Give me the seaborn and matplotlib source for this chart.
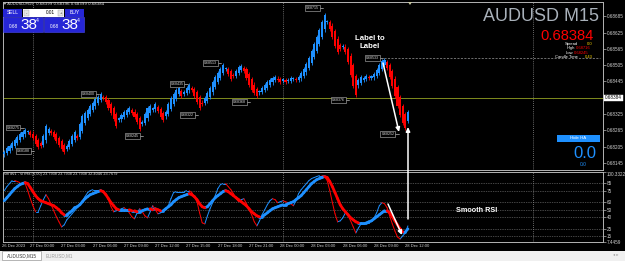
import numpy as np
import pandas as pd
import matplotlib
matplotlib.use("Agg")
import matplotlib.pyplot as plt
import seaborn as sns
from matplotlib.patches import Rectangle
from matplotlib.transforms import ScaledTranslation, blended_transform_factory

# ---------------- data ----------------
ha_close = [
    0.68185, 0.68200, 0.68207, 0.68218, 0.68229, 0.68240, 0.68251, 0.68259, 0.68266, 0.68259, 0.68247, 0.68236,
    0.68214, 0.68203, 0.68207, 0.68244, 0.68281, 0.68270, 0.68255, 0.68240, 0.68225, 0.68211, 0.68196, 0.68185,
    0.68207, 0.68225, 0.68244, 0.68259, 0.68236, 0.68288, 0.68318, 0.68329, 0.68340, 0.68354, 0.68366, 0.68380,
    0.68388, 0.68399, 0.68384, 0.68369, 0.68347, 0.68329, 0.68306, 0.68281, 0.68306, 0.68321, 0.68332, 0.68340,
    0.68347, 0.68329, 0.68314, 0.68295, 0.68270, 0.68295, 0.68325, 0.68347, 0.68354, 0.68343, 0.68362, 0.68336,
    0.68314, 0.68303, 0.68332, 0.68362, 0.68384, 0.68399, 0.68414, 0.68421, 0.68391, 0.68406, 0.68421, 0.68432,
    0.68414, 0.68391, 0.68369, 0.68347, 0.68362, 0.68384, 0.68402, 0.68421, 0.68443, 0.68461, 0.68476, 0.68491,
    0.68506, 0.68491, 0.68473, 0.68454, 0.68465, 0.68484, 0.68498, 0.68502, 0.68484, 0.68458, 0.68432, 0.68414,
    0.68402, 0.68391, 0.68406, 0.68421, 0.68432, 0.68443, 0.68450, 0.68458, 0.68461, 0.68450, 0.68443, 0.68450,
    0.68443, 0.68450, 0.68458, 0.68454, 0.68450, 0.68461, 0.68476, 0.68491, 0.68509, 0.68532, 0.68557, 0.68583,
    0.68609, 0.68635, 0.68664, 0.68690, 0.68664, 0.68639, 0.68609, 0.68576, 0.68554, 0.68565, 0.68576, 0.68554,
    0.68517, 0.68469, 0.68428, 0.68395, 0.68450, 0.68461, 0.68458, 0.68465, 0.68458, 0.68461, 0.68473, 0.68487,
    0.68506, 0.68521, 0.68524, 0.68495, 0.68461, 0.68428, 0.68391, 0.68354, 0.68321, 0.68292, 0.68273, 0.68332,
]
ha_open_first = 0.68176

rsi_smooth = [
    61.8, 65.8, 69.8, 73.8, 77.8, 80.4, 83.1, 84.4, 85.7, 84.4, 79.1, 73.8,
    68.5, 64.5, 61.8, 60.5, 59.2, 57.9, 56.5, 55.2, 52.6, 49.9, 45.9, 43.3,
    43.3, 45.9, 48.6, 52.6, 53.9, 56.5, 60.5, 64.5, 67.2, 69.8, 71.1, 72.5,
    73.8, 75.1, 73.8, 69.8, 64.5, 59.2, 55.2, 51.2, 49.9, 49.9, 49.9, 49.9,
    49.9, 48.6, 48.6, 47.2, 47.2, 48.6, 49.9, 51.2, 51.2, 49.9, 51.2, 49.9,
    48.6, 48.6, 51.2, 53.9, 56.5, 60.5, 63.2, 65.8, 67.2, 68.5, 69.8, 71.1,
    69.8, 67.2, 63.2, 57.9, 53.9, 52.6, 53.9, 57.9, 61.8, 65.8, 68.5, 71.1,
    73.8, 75.1, 73.8, 71.1, 68.5, 65.8, 63.2, 60.5, 57.9, 55.2, 51.2, 47.2,
    44.6, 41.9, 40.6, 40.6, 43.3, 45.9, 48.6, 51.2, 52.6, 53.9, 55.2, 56.5,
    56.5, 57.9, 59.2, 60.5, 63.2, 65.8, 68.5, 72.5, 76.4, 80.4, 84.4, 87.1,
    89.7, 91.0, 92.4, 93.7, 92.4, 87.1, 80.4, 72.5, 64.5, 56.5, 51.2, 47.2,
    43.3, 39.3, 36.6, 34.0, 32.7, 32.7, 32.7, 32.7, 34.0, 35.3, 38.0, 40.6,
    43.3, 45.9, 48.6, 48.6, 45.9, 40.6, 35.3, 30.0, 24.7, 20.7, 20.7, 24.7,
]
rsi_fast = [
    75.1, 80.4, 84.4, 88.4, 88.4, 87.1, 85.7, 85.7, 84.4, 75.1, 64.5, 55.2,
    47.2, 47.2, 55.2, 63.2, 69.8, 64.5, 56.5, 48.6, 40.6, 34.0, 27.3, 30.0,
    36.6, 40.6, 44.6, 48.6, 52.6, 57.9, 61.8, 67.2, 72.5, 75.1, 76.4, 76.4,
    76.4, 76.4, 73.8, 69.8, 63.2, 53.9, 47.2, 48.6, 49.9, 51.2, 52.6, 49.9,
    45.9, 40.6, 38.0, 45.9, 51.2, 47.2, 41.9, 39.3, 47.2, 55.2, 49.9, 44.6,
    45.9, 48.6, 49.9, 55.2, 64.5, 72.5, 73.8, 73.8, 73.8, 73.8, 75.1, 75.1,
    72.5, 67.2, 60.5, 45.9, 32.7, 31.3, 41.9, 51.2, 59.2, 68.5, 77.8, 83.1,
    84.4, 84.4, 80.4, 76.4, 71.1, 64.5, 60.5, 63.2, 64.5, 57.9, 49.9, 43.3,
    34.0, 28.7, 35.3, 43.3, 49.9, 56.5, 61.8, 64.5, 63.2, 59.2, 60.5, 61.8,
    60.5, 59.2, 57.9, 55.2, 61.8, 71.1, 76.4, 80.4, 84.4, 88.4, 91.0, 92.4,
    93.7, 95.0, 95.0, 93.7, 88.4, 75.1, 59.2, 44.6, 34.0, 35.3, 39.3, 45.9,
    41.9, 35.3, 27.3, 19.4, 26.0, 31.3, 31.3, 32.7, 32.7, 35.3, 39.3, 45.9,
    55.2, 59.2, 57.9, 52.6, 41.9, 31.3, 22.0, 14.1, 11.4, 15.4, 19.4, 28.7,
]

time_tick_idx = [0, 11, 23, 35, 47, 59, 71, 83, 95, 107, 119, 131, 143, 155]
time_tick_lab = ["26 Dec 2023", "27 Dec 00:00", "27 Dec 03:00", "27 Dec 06:00", "27 Dec 09:00",
                 "27 Dec 12:00", "27 Dec 15:00", "27 Dec 18:00", "27 Dec 21:00", "28 Dec 00:00",
                 "28 Dec 03:00", "28 Dec 06:00", "28 Dec 09:00", "28 Dec 12:00"]
day_sep_idx = [11, 107, 203]

price_ticks = [0.68685, 0.68625, 0.68565, 0.68505, 0.68445, 0.68325, 0.68265, 0.68205, 0.68145]
current_price = 0.68384
rsi_ticks = [100.3322, 85, 75, 60, 50, 40, 25, 15, 7.4459]
rsi_tick_lab = ["100.3322", "85", "75", "60", "50", "40", "25", "15", "7.4459"]
rsi_levels = [85, 75, 60, 50, 40, 25, 15]

swing_idx = [8, 12, 37, 54, 71, 75, 84, 95, 123, 146, 133, 152]
swing_val = [0.68275, 0.68188, 0.68400, 0.68245, 0.68435, 0.68322, 0.68513, 0.68368, 0.68715, 0.68533,
             0.68376, 0.68252]
swing_lab = ["0.68275", "0.68188", "0.68400", "0.68245", "0.68435", "0.68322", "0.68513", "0.68368",
             "0.68715", "0.68533", "0.68376", "0.68252"]

# ---------------- style ----------------
sns.set_theme(style="dark")
plt.rcParams["font.family"] = ["Liberation Sans", "DejaVu Sans"]
plt.rcParams["axes.facecolor"] = "black"

W, H = 625, 261
BLUE, RED = "#1E90FF", "#FF0000"
GRID = "#8A8A8A"
FRAME = "#B4B4B4"
TXT = "#D0D0D0"
WICK = 0.00008

fig = plt.figure(figsize=(W / 100, H / 100), dpi=100, facecolor="black")

def rect_ax(x0, y0, x1, y1):
    return [x0 / W, 1 - y1 / H, (x1 - x0) / W, (y1 - y0) / H]

n = len(ha_close)
idx = np.arange(n)
ha_open = [ha_open_first]
for i in range(1, n):
    ha_open.append((ha_open[i - 1] + ha_close[i - 1]) / 2)
ha_open = np.array(ha_open)
ha_c = np.array(ha_close)

P_TOP, P_BOT = 1.5, 170.0
price_at = lambda py: 0.687456 - 0.0000369 * py
XPITCH = 2.604
xl = (-0.5, -0.5 + 600 / XPITCH)

# ---------------- price panel ----------------
ax = fig.add_axes(rect_ax(3, P_TOP, 603, P_BOT))
ax.set_facecolor("black")
ax.set_xlim(*xl)
ax.set_ylim(price_at(P_BOT), price_at(P_TOP))

up = ha_c >= ha_open
cols = np.where(up, BLUE, RED)
body_lo = np.minimum(ha_open, ha_c)
body_hi = np.maximum(ha_open, ha_c)
body_h = np.maximum(body_hi - body_lo, 0.00005)
ax.vlines(idx, body_lo - WICK, body_hi + WICK, colors=cols, lw=0.6, zorder=3)
ax.bar(idx, body_h, bottom=body_lo, width=0.8, color=cols, linewidth=0, zorder=3)

for d in day_sep_idx:
    ax.axvline(d, color=GRID, lw=0.6, ls=(0, (1, 1.5)), zorder=1)
ax.axhline(current_price, color="#7F8C1E", lw=0.7, zorder=2)

for si, sv, sl in zip(swing_idx, swing_val, swing_lab):
    ax.plot([si - 2.0, si - 0.6], [sv, sv], color="#BBBBBB", lw=0.5, zorder=4)
    ax.text(si - 2.2, sv, sl, ha="right", va="center", fontsize=2.6, color="#DDDDDD", zorder=5,
            bbox=dict(boxstyle="square,pad=0.25", fc="black", ec="#BBBBBB", lw=0.4))
ax.hlines(swing_val[9], swing_idx[9], xl[1] - 1, color="#9A9A9A", lw=0.5, ls=(0, (3, 2)), zorder=2)

ax.yaxis.tick_right()
ax.set_yticks(price_ticks)
ax.set_yticklabels([f"{p:.5f}" for p in price_ticks])
ax.tick_params(axis="y", colors=FRAME, labelcolor=TXT, labelsize=3.3, length=2, width=0.5, pad=1)
ax.set_xticks([])
for s in ax.spines.values():
    s.set_color(FRAME)
    s.set_linewidth(0.7)
ax.grid(False)
bt = blended_transform_factory(ax.transAxes, ax.transData)
ax.text(1.003, current_price, "0.68384", transform=bt, ha="left", va="center", fontsize=3.3, color="black",
        bbox=dict(boxstyle="square,pad=0.2", fc="white", ec="white", lw=0.3), zorder=6, clip_on=False)

# ---------------- RSI panel ----------------
axr = fig.add_axes(rect_ax(3, 171.5, 603, 242))
axr.set_facecolor("black")
for lv in rsi_levels:
    axr.axhline(lv, color=GRID, lw=0.5, ls=(0, (1, 1.5)), zorder=1)
for d in day_sep_idx:
    axr.axvline(d, color=GRID, lw=0.6, ls=(0, (1, 1.5)), zorder=1)

def seg_frame(vals):
    rows = []
    for i in range(len(vals) - 1):
        dr = "up" if vals[i + 1] >= vals[i] else "dn"
        rows.append((i, i, vals[i], dr))
        rows.append((i, i + 1, vals[i + 1], dr))
    return pd.DataFrame(rows, columns=["seg", "x", "v", "dir"])

pal = {"up": BLUE, "dn": RED}
sns.lineplot(data=seg_frame(rsi_fast), x="x", y="v", units="seg", estimator=None, hue="dir",
             palette=pal, lw=0.7, legend=False, sort=False, ax=axr, zorder=3)
sns.lineplot(data=seg_frame(rsi_smooth), x="x", y="v", units="seg", estimator=None, hue="dir",
             palette=pal, lw=2.0, legend=False, sort=False, ax=axr, zorder=4)
axr.set_xlim(*xl)
axr.set_ylim(7.4459, 100.3322)
axr.set_xlabel("")
axr.set_ylabel("")
axr.yaxis.tick_right()
axr.set_yticks(rsi_ticks)
axr.set_yticklabels(rsi_tick_lab)
axr.tick_params(axis="y", colors=FRAME, labelcolor=TXT, labelsize=3.3, length=2, width=0.5, pad=1)
yl = axr.get_yticklabels()
yl[0].set_va("top")
yl[-1].set_va("center")
yl[-1].set_transform(yl[-1].get_transform() + ScaledTranslation(0, -0.6 / 100, fig.dpi_scale_trans))
axr.set_xticks(time_tick_idx)
axr.set_xticklabels(time_tick_lab)
axr.tick_params(axis="x", length=0, pad=1.2, labelsize=3.0, labelcolor=TXT)
off = ScaledTranslation(-2.8 / 100, 0, fig.dpi_scale_trans)
for lab in axr.get_xticklabels():
    lab.set_ha("left")
    lab.set_transform(lab.get_transform() + off)
for s in axr.spines.values():
    s.set_color(FRAME)
    s.set_linewidth(0.7)
axr.grid(False)

# ---------------- overlay (pixel coords) ----------------
ov = fig.add_axes([0, 0, 1, 1])
ov.set_xlim(0, W)
ov.set_ylim(H, 0)
ov.axis("off")
ov.patch.set_alpha(0)

def box(x0, y0, x1, y1, fc, ec="none", lw=0.5, z=5):
    ov.add_patch(Rectangle((x0, y0), x1 - x0, y1 - y0, fc=fc, ec=ec, lw=lw, zorder=z))

ov.text(4, 4.3, "▾ AUDUSD,M15  0.68399 0.68396 0.68399 0.68384", fontsize=2.8, color="#E0E0E0",
        va="center", ha="left", family=["DejaVu Sans"])
ov.text(4, 174.5, "sm dv1 - si rHa (6,00) 23.7938 23.7938 23.7938 32.4046 23.7679", fontsize=2.8,
        color="#E0E0E0", va="center", ha="left")

PB = "#2626D6"
box(3, 9, 22, 17, PB)
box(65, 9, 84, 17, PB)
box(23, 9, 64, 17, "white")
box(24, 10, 29, 16, "#E4E4E4", "#A0A0A0", 0.3)
box(58, 10, 63, 16, "#E4E4E4", "#A0A0A0", 0.3)
box(3, 17.3, 43.3, 32, PB, "#4A4AF0", 0.4)
box(43.8, 17.3, 84, 32, PB, "#4A4AF0", 0.4)
ov.text(12.5, 13, "SELL", fontsize=3.6, color="white", ha="center", va="center", zorder=6)
ov.text(74.5, 13, "BUY", fontsize=3.6, color="white", ha="center", va="center", zorder=6)
ov.text(26.5, 13, "-", fontsize=3, color="#333333", ha="center", va="center", zorder=6)
ov.text(60.5, 13, "+", fontsize=3, color="#333333", ha="center", va="center", zorder=6)
ov.text(50, 13, "0.01", fontsize=3.4, color="black", ha="center", va="center", zorder=6)
for bx in (0, 41):
    ov.text(9 + bx, 26.3, "0.68", fontsize=3.4, color="white", ha="left", va="center", zorder=6)
    ov.text(20.5 + bx, 25, "38", fontsize=11, color="white", ha="left", va="center", zorder=6)
    ov.text(36.2 + bx, 21.0, "4", fontsize=3.8, color="white", ha="left", va="center", zorder=6)

ov.text(599, 16.5, "AUDUSD M15", fontsize=13, color="#A9B1BA", ha="right", va="center")
ov.text(593.5, 35.8, "0.68384", fontsize=10.6, color=RED, ha="right", va="center")
info = [("Spread", "0.0", "#FFD700", 43.8, 578, 587),
        ("High", "0.68716", RED, 48.2, 575, 576),
        ("Low", "0.68245", RED, 52.6, 573, 574),
        ("Candle Time", "0.43", "#FFD700", 57.2, 578, 585)]
for lab, val, col, yy, xr, xv in info:
    ov.text(xr, yy, lab, fontsize=3.0, color="white", ha="right", va="center", zorder=7)
    ov.text(xv, yy, val, fontsize=3.0, color=col, ha="left", va="center", zorder=7)

box(557, 135, 600, 141.5, BLUE)
ov.text(578.5, 138.3, "Hide HA", fontsize=3.2, color="white", ha="center", va="center", zorder=6)
ov.text(585, 154, "0.0", fontsize=12, color=BLUE, ha="center", va="center")
ov.text(583, 165, "0.0", fontsize=3.5, color=BLUE, ha="center", va="center")

ov.text(370, 38, "Label to", fontsize=5.6, color="white", weight="bold", ha="center", va="center", zorder=8)
ov.text(370, 47, "Label", fontsize=5.6, color="white", weight="bold", ha="center", va="center", zorder=8)
ov.text(477, 210, "Smooth RSI", fontsize=5.2, color="white", weight="bold", ha="center", va="center", zorder=8)
arrow = dict(arrowstyle="-|>,head_length=0.25,head_width=0.12", color="white", lw=1.1,
             shrinkA=0, shrinkB=0, mutation_scale=10)
ov.annotate("", xy=(399, 132), xytext=(383, 63), arrowprops=arrow, zorder=9)
ov.annotate("", xy=(408, 127), xytext=(408, 219), arrowprops=arrow, zorder=9)
ov.annotate("", xy=(402, 235), xytext=(388, 204), arrowprops=arrow, zorder=9)

ov.add_patch(plt.Polygon([[408, 2], [412, 2], [410, 5]], closed=True, fc="#C8C8A0", ec="none", zorder=6))

box(0, 250.5, W, H, "#F0F0F0", z=4)
box(2, 251, 41, 260, "white", "#9A9A9A", 0.5)
ov.text(21.5, 255.5, "AUDUSD,M15", fontsize=3.3, color="#333333", ha="center", va="center", zorder=6)
ov.text(59.5, 255.5, "EURUSD,M1", fontsize=3.3, color="#9A9A9A", ha="center", va="center", zorder=6)
ov.text(616, 255.5, "◂ ▸", fontsize=3, color="#9A9A9A", ha="center", va="center", zorder=6,
        family=["DejaVu Sans"])

fig.savefig("out.png", dpi=100, facecolor="black")
